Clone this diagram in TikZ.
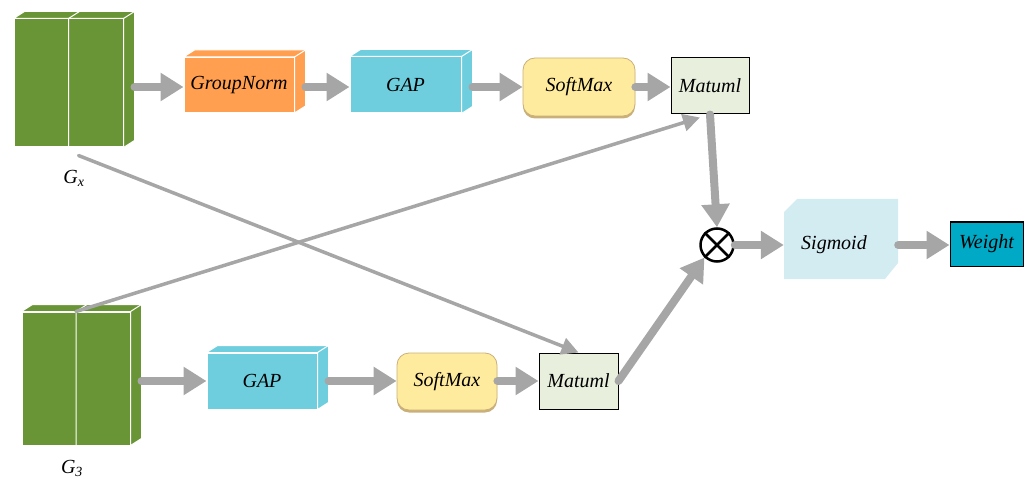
\documentclass[tikz,border=0pt]{standalone}
\usepackage{fontspec}
\setmainfont{Liberation Serif}
\usetikzlibrary{arrows.meta,shadows}
\definecolor{featgreen}{HTML}{6A9537}
\definecolor{normorange}{HTML}{FF9F4F}
\definecolor{gapcyan}{HTML}{6ECEDD}
\definecolor{softyellow}{HTML}{FFEB9D}
\definecolor{softedge}{HTML}{C9B07A}
\definecolor{matfill}{HTML}{E8F0DD}
\definecolor{sigfill}{HTML}{D3ECF2}
\definecolor{weightteal}{HTML}{00A9C6}
\definecolor{flowgray}{HTML}{A6A6A6}

\tikzset{
  lbl/.style={font=\fontsize{20}{23}\selectfont\itshape, inner sep=0pt},
  cube/.style={lbl, draw=white, line width=1pt},
  softbox/.style={lbl, fill=softyellow, draw=softedge, line width=0.8pt, rounded corners=12pt,
    drop shadow={shadow xshift=0pt, shadow yshift=-2.5pt, fill=softedge, opacity=1}},
  matbox/.style={lbl, fill=matfill, draw=black, line width=1pt},
  flow/.style={draw=flowgray, line width=8pt, line cap=round, -{Triangle[length=23pt,width=27pt]}},
  cross/.style={draw=flowgray, line width=3.5pt, line cap=round, -{Triangle[length=17pt,width=17pt]}},
}
\def\cubeside#1#2{%
  \filldraw[#2, draw=white, line width=1pt] (#1.north west) -- ++(11,-7)
    -- ([shift={(11,-7)}]#1.north east) -- ([shift={(11,-7)}]#1.south east)
    -- (#1.south east) -- (#1.north east) -- cycle;
  \draw[white, line width=1pt] (#1.north east) -- ++(11,-7);}

\begin{document}
\begin{tikzpicture}[x=1pt, y=-1pt]
\useasboundingbox (0,0) rectangle (1033,481);

% upper branch
\node[cube, fill=featgreen, minimum width=109pt, minimum height=128pt] (gx) at (68.5,83) {};
\cubeside{gx}{featgreen}
\draw[white, line width=1pt] ([shift={(11,-7)}]gx.north) -- (gx.north) -- (gx.south);
\node[lbl] (gxlbl) at (74,178) {G\textsubscript{x}};

\node[cube, fill=normorange, minimum width=110pt, minimum height=55pt] (gnorm) at (239,85) {GroupNorm};
\cubeside{gnorm}{normorange}
\node[cube, fill=gapcyan, minimum width=111pt, minimum height=56pt] (gapa) at (405.5,85) {GAP};
\cubeside{gapa}{gapcyan}
\node[softbox, minimum width=112pt, minimum height=58pt] (softa) at (579,87) {SoftMax};
\node[matbox, minimum width=78pt, minimum height=56pt] (mata) at (710,86) {Matuml};

% lower branch
\node[cube, fill=featgreen, minimum width=108pt, minimum height=133pt] (g3) at (76,378.5) {};
\cubeside{g3}{featgreen}
\draw[white, line width=1pt] ([shift={(11,-7)}]g3.north) -- (g3.north) -- (g3.south);
\node[lbl] (g3lbl) at (72,468) {G\textsubscript{3}};

\node[cube, fill=gapcyan, minimum width=110pt, minimum height=56pt] (gapb) at (262,381) {GAP};
\cubeside{gapb}{gapcyan}
\node[softbox, minimum width=100pt, minimum height=57pt] (softb) at (447,381.5) {SoftMax};
\node[matbox, minimum width=79pt, minimum height=56pt] (matb) at (578.5,381) {Matuml};

% fusion
\node[circle, draw=black, line width=2.5pt, minimum size=33pt, inner sep=0pt] (prod) at (717,245) {};
\draw[black, line width=2.5pt] (prod.north west) -- (prod.south east) (prod.north east) -- (prod.south west);
\node[minimum width=114pt, minimum height=80pt, inner sep=0pt,
  path picture={\fill[sigfill] ([yshift=-13pt]path picture bounding box.north west)
    -- ([xshift=13pt]path picture bounding box.north west) -- (path picture bounding box.north east)
    -- ([yshift=16pt]path picture bounding box.south east) -- ([xshift=-13pt]path picture bounding box.south east)
    -- (path picture bounding box.south west) -- cycle;}] (sigm) at (841,239) {};
\node[lbl] (sigtxt) at (834,245) {Sigmoid};
\node[lbl, fill=weightteal, draw=black, line width=1pt, minimum width=73pt, minimum height=44pt] (weight) at (986.5,244) {Weight};

% connectors
\draw[flow] ([xshift=11pt]gx.east |- softa.west) -- (gnorm.west |- softa.west);
\draw[flow] ([xshift=11pt]gnorm.east |- softa.west) -- (gapa.west |- softa.west);
\draw[flow] ([xshift=11pt]gapa.east |- softa.west) -- (softa.west);
\draw[flow] (softa.east) -- (mata.west |- softa.east);
\draw[flow] ([xshift=11pt]g3.east |- gapb.west) -- (gapb.west);
\draw[flow] ([xshift=11pt]gapb.east) -- (softb.west |- gapb.east);
\draw[flow] (softb.east |- matb.west) -- (matb.west);
\draw[flow] (mata.south) -- (prod.north);
\draw[flow] (matb.east) -- (prod.south west);
\draw[flow] (prod.east) -- (prod.east -| sigm.west);
\draw[flow] (sigm.east |- prod.east) -- (weight.west |- prod.east);
\draw[cross] ([shift={(10,8)}]gx.south) -- (matb.north);
\draw[cross] (g3.north) -- ([shift={(-10,3)}]mata.south);
\end{tikzpicture}
\end{document}
